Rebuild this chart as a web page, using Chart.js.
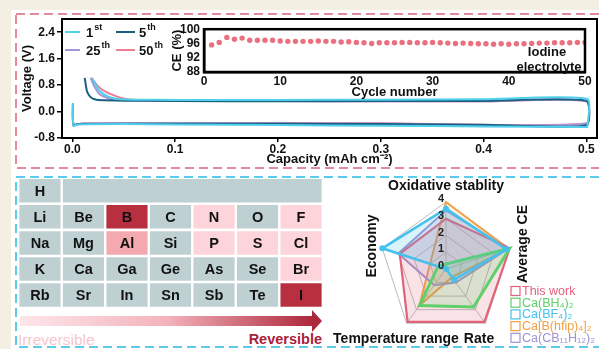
<!DOCTYPE html>
<html>
<head>
<meta charset="utf-8">
<script src="https://cdn.jsdelivr.net/npm/chart.js@4.4.0/dist/chart.umd.min.js"></script>
<style>
body{margin:0;width:599px;height:349px;background:#f3efe2;overflow:hidden;position:relative;font-family:'Liberation Sans',Arial,sans-serif}
#panel{position:absolute;left:11px;top:10px;width:600px;height:345px;background:#fff}
canvas,svg{position:absolute}
</style>
</head>
<body>
<div id="panel"></div>
<svg width="599" height="349" style="left:0;top:0">
  <defs>
    <linearGradient id="rev" x1="0" x2="1" y1="0" y2="0">
      <stop offset="0" stop-color="#fde6ea"/>
      <stop offset="0.5" stop-color="#f4b3bc"/>
      <stop offset="1" stop-color="#ad283b"/>
    </linearGradient>
  </defs>
  <rect x="16" y="14" width="600" height="154" fill="none" stroke="#e58a9a" stroke-width="2" stroke-dasharray="9 5"/>
  <rect x="16" y="177" width="600" height="170" fill="none" stroke="#5ccaea" stroke-width="2" stroke-dasharray="9 5"/>
  <rect x="20" y="316" width="293" height="10" fill="url(#rev)"/>
  <polygon points="312,310 322,321 312,332" fill="#ad283b"/>
  <text x="18" y="345" font-size="15.5" fill="#f7c6cd">Irreversible</text>
  <text x="322" y="344" font-size="14.5" font-weight="bold" fill="#a82038" text-anchor="end">Reversible</text>
</svg>
<canvas id="volt" width="599" height="172" style="left:0;top:0"></canvas>
<canvas id="ce" width="449" height="84" style="left:150px;top:18px"></canvas>
<canvas id="pt" width="330" height="145" style="left:0;top:170px"></canvas>
<canvas id="radar" width="269" height="173" style="left:330px;top:176px"></canvas>
<script>
// ---- voltage profiles (capacity mAh cm-2 / voltage V) ----
const cycleNums = ['1', '5', '25', '50'];
const cycleSup = ['st', 'th', 'th', 'th'];
const cap1st = [0.0005, 0.001, 0.005, 0.05, 0.1, 0.2, 0.3, 0.4, 0.5, 0.501, 0.501, 0.4, 0.3, 0.2, 0.1, 0.06, 0.044, 0.038, 0.033, 0.028, 0.025, 0.0195];
const volt1st = [0.26, -0.43, -0.39, -0.38, -0.39, -0.41, -0.43, -0.45, -0.47, -0.47, 0.38, 0.37, 0.36, 0.35, 0.35, 0.36, 0.38, 0.42, 0.48, 0.58, 0.69, 0.99];
const cap5th = [0.0005, 0.001, 0.005, 0.1, 0.2, 0.3, 0.4, 0.5, 0.5, 0.4, 0.3, 0.2, 0.1, 0.052, 0.025, 0.021, 0.0185, 0.016, 0.014, 0.012];
const volt5th = [0.24, -0.42, -0.38, -0.37, -0.37, -0.38, -0.40, -0.41, 0.33, 0.32, 0.32, 0.31, 0.32, 0.33, 0.35, 0.38, 0.42, 0.50, 0.64, 1.02];
const cap25th = [0.0005, 0.001, 0.01, 0.1, 0.3, 0.5, 0.5, 0.4, 0.2, 0.1, 0.052, 0.036, 0.031, 0.0266, 0.0217, 0.0178];
const volt25th = [0.2, -0.38, -0.36, -0.35, -0.36, -0.37, 0.31, 0.31, 0.32, 0.33, 0.34, 0.39, 0.45, 0.52, 0.74, 1.02];
const cap50th = [0.0005, 0.001, 0.01, 0.1, 0.3, 0.5, 0.5, 0.4, 0.2, 0.1, 0.072, 0.052, 0.041, 0.030, 0.024, 0.0185];
const volt50th = [0.2, -0.38, -0.36, -0.35, -0.35, -0.36, 0.31, 0.31, 0.32, 0.33, 0.34, 0.38, 0.48, 0.64, 0.80, 1.02];
const capTicks = [0, 0.1, 0.2, 0.3, 0.4, 0.5];
const voltTicks = [-0.8, 0, 0.8, 1.6, 2.4];

// ---- coulombic efficiency inset ----
const ceCycles = Array.from({length: 50}, (_, i) => i + 1);
const ceValues = [95.6, 96.3, 97.7, 97.2, 97.5, 96.9, 96.9, 96.9, 96.9, 96.7,
                  96.6, 96.6, 96.6, 96.6, 96.7, 96.6, 96.6, 96.4, 96.5, 96.3,
                  96.2, 96.0, 96.2, 96.2, 96.2, 96.3, 96.3, 96.2, 96.2, 96.3,
                  96.2, 96.1, 96.0, 96.1, 96.0, 95.9, 95.9, 95.8, 95.9, 95.8,
                  95.9, 95.9, 96.0, 96.1, 96.1, 96.2, 96.2, 96.2, 96.3, 96.3];
const ceXTicks = [0, 10, 20, 30, 40, 50];
const ceYTicks = [88, 92, 96, 100];

// ---- periodic table ----
const elementRows = [
  ['H'],
  ['Li', 'Be', 'B', 'C', 'N', 'O', 'F'],
  ['Na', 'Mg', 'Al', 'Si', 'P', 'S', 'Cl'],
  ['K', 'Ca', 'Ga', 'Ge', 'As', 'Se', 'Br'],
  ['Rb', 'Sr', 'In', 'Sn', 'Sb', 'Te', 'I']
];
// 0 irreversible ... 3 reversible
const reversibility = [
  [0],
  [0, 0, 3, 0, 1, 0, 1],
  [0, 0, 2, 0, 1, 1, 1],
  [0, 0, 0, 0, 0, 0, 1],
  [0, 0, 0, 0, 0, 0, 3]
];

// ---- radar ----
const radarAxes = ['Oxidative stablity', 'Average CE', 'Rate', 'Temperature range', 'Economy'];
const radarNames = ['This work', 'Ca(BH₄)₂', 'Ca(BF₄)₂', 'Ca[B(hfip)₄]₂', 'Ca(CB₁₁H₁₂)₂'];
const thisWork = [3.0, 4.0, 3.9, 3.9, 2.9];
const caBH4 = [0.3, 4.0, 2.8, 2.7, 0.5];
const caBF4 = [3.6, 3.8, 0.8, 0.0, 4.0];
const caBhfip = [4.0, 3.9, 0.6, 2.7, 1.0];
const caCB11 = [3.5, 3.9, 1.0, 1.2, 3.0];
const radarTicks = [0, 1, 2, 3, 4];

Chart.defaults.font.family = "'Liberation Sans', Arial, sans-serif";
Chart.defaults.color = '#111';
Chart.defaults.animation = false;

const frame = {
  id: 'frame',
  afterDatasetsDraw(chart, args, opts) {
    const {ctx, chartArea: a} = chart;
    ctx.save();
    ctx.strokeStyle = '#000';
    ctx.lineWidth = opts.width || 2;
    ctx.strokeRect(a.left, a.top, a.right - a.left, a.bottom - a.top);
    ctx.restore();
  }
};

// voltage chart
const voltColors = ['#4fd0ec', '#1d5f80', '#a096d8', '#ea7f92'];
const voltCaps = [cap1st, cap5th, cap25th, cap50th];
const voltVals = [volt1st, volt5th, volt25th, volt50th];

const voltLegend = {
  id: 'voltLegend',
  afterDraw(chart) {
    const {ctx, chartArea: a} = chart;
    ctx.save();
    chart.data.datasets.forEach((ds, i) => {
      const x = a.left + 3 + (i % 2) * 51;
      const y = a.top + 13 + Math.floor(i / 2) * 18;
      ctx.strokeStyle = ds.borderColor;
      ctx.lineWidth = 2;
      ctx.beginPath(); ctx.moveTo(x, y); ctx.lineTo(x + (i % 2 ? 19 : 15), y); ctx.stroke();
      const tx = x + (i % 2 ? 23 : 21);
      ctx.fillStyle = '#111';
      ctx.textBaseline = 'middle';
      ctx.font = "bold 13px 'Liberation Sans', Arial";
      ctx.fillText(cycleNums[i], tx, y + 1);
      const w = ctx.measureText(cycleNums[i]).width;
      ctx.font = "bold 9px 'Liberation Sans', Arial";
      ctx.fillText(cycleSup[i], tx + w + 1, y - 4);
    });
    ctx.restore();
  }
};

new Chart(document.getElementById('volt'), {
  type: 'scatter',
  data: {
    datasets: cycleNums.map((n, i) => ({
      label: n + cycleSup[i],
      data: voltCaps[i].map((x, j) => ({x: x, y: voltVals[i][j]})),
      showLine: true,
      borderColor: voltColors[i],
      borderWidth: 2,
      pointRadius: 0,
      tension: 0.2,
      fill: false
    }))
  },
  options: {
    responsive: false,
    layout: {padding: {left: 14, right: 2, top: 19, bottom: 0}},
    plugins: {legend: {display: false}, tooltip: {enabled: false}, frame: {width: 2}},
    scales: {
      x: {
        type: 'linear', min: -0.0101, max: 0.5104,
        afterBuildTicks: s => { s.ticks = capTicks.map(v => ({value: v})); },
        afterFit: s => { s.height = 34; },
        ticks: {callback: v => v.toFixed(1), font: {size: 12, weight: 'bold'}, padding: 0, maxRotation: 0, autoSkip: false, color: '#111'},
        grid: {display: true, drawOnChartArea: false, tickLength: 4, color: '#000', lineWidth: 1.5},
        border: {display: true, color: '#000', width: 2},
        title: {display: true, text: 'Capacity (mAh cm⁻²)', font: {size: 13, weight: 'bold'}, color: '#111', padding: {top: 0, bottom: 4.5}}
      },
      y: {
        type: 'linear', min: -0.8, max: 2.8,
        afterBuildTicks: s => { s.ticks = voltTicks.map(v => ({value: v})); },
        afterFit: s => { s.width = 48; },
        ticks: {callback: v => v.toFixed(1), font: {size: 12, weight: 'bold'}, padding: 2, autoSkip: false, color: '#111'},
        grid: {display: true, drawOnChartArea: false, tickLength: 5, color: '#000', lineWidth: 1.5},
        border: {display: true, color: '#000', width: 2},
        title: {display: true, text: 'Voltage (V)', font: {size: 13, weight: 'bold'}, color: '#111', padding: {top: 6, bottom: 0}}
      }
    }
  },
  plugins: [frame, voltLegend]
});

// CE inset
const ceNote = {
  id: 'ceNote',
  afterDraw(chart) {
    const {ctx, chartArea: a} = chart;
    ctx.save();
    ctx.fillStyle = '#111';
    ctx.font = "bold 13px 'Liberation Sans', Arial";
    ctx.textAlign = 'center';
    ctx.textBaseline = 'middle';
    ctx.fillText('Iodine', a.right - 38, a.top + 23);
    ctx.fillText('electrolyte', a.right - 36, a.top + 38);
    ctx.restore();
  }
};

new Chart(document.getElementById('ce'), {
  type: 'scatter',
  data: {
    datasets: [{
      label: 'CE',
      data: ceCycles.map((c, i) => ({x: c, y: ceValues[i]})),
      pointRadius: 2.7,
      pointBackgroundColor: '#e9707f',
      pointBorderWidth: 0,
      showLine: false
    }]
  },
  options: {
    responsive: false,
    layout: {padding: {left: 20, right: 14, top: 8, bottom: 0}},
    plugins: {legend: {display: false}, tooltip: {enabled: false}, frame: {width: 2.5}},
    scales: {
      x: {
        type: 'linear', min: 0, max: 50,
        afterBuildTicks: s => { s.ticks = ceXTicks.map(v => ({value: v})); },
        afterFit: s => { s.height = 30; },
        ticks: {font: {size: 12, weight: 'bold'}, padding: 2, maxRotation: 0, autoSkip: false, color: '#111'},
        grid: {display: false, drawTicks: false},
        border: {display: true, color: '#000', width: 2.5},
        title: {display: true, text: 'Cycle number', font: {size: 13, weight: 'bold'}, color: '#111', padding: {top: 0, bottom: 2}}
      },
      y: {
        type: 'linear', min: 88, max: 100,
        afterBuildTicks: s => { s.ticks = ceYTicks.map(v => ({value: v})); },
        afterFit: s => { s.width = 34; },
        ticks: {font: {size: 12, weight: 'bold'}, padding: 4, autoSkip: false, color: '#111'},
        grid: {display: false, drawTicks: false},
        border: {display: true, color: '#000', width: 2.5},
        title: {display: true, text: 'CE (%)', font: {size: 13, weight: 'bold'}, color: '#111', padding: {top: 0, bottom: 0}}
      }
    }
  },
  plugins: [frame, ceNote]
});

// periodic table as floating bars
const shades = ['#bfd0d3', '#fcd4d9', '#f4a9b1', '#b8303f'];
const gap = 0.027;
const ptDatasets = [];
for (let c = 0; c < 7; c++) {
  ptDatasets.push({
    label: 'col' + c,
    data: elementRows.map(r => r[c] ? [c + gap, c + 1 - gap] : null),
    backgroundColor: reversibility.map(r => r[c] !== undefined ? shades[r[c]] : 'transparent'),
    grouped: false, barPercentage: 0.9, categoryPercentage: 1, borderWidth: 0
  });
}
ptDatasets.push({
  label: 'blank',
  data: elementRows.map((r, i) => i === 0 ? [1 + gap, 7 - gap] : null),
  backgroundColor: shades[0],
  grouped: false, barPercentage: 0.9, categoryPercentage: 1, borderWidth: 0
});

const symbols = {
  id: 'symbols',
  afterDatasetsDraw(chart) {
    const {ctx} = chart;
    ctx.save();
    ctx.font = "bold 14.5px 'Liberation Sans', Arial";
    ctx.fillStyle = '#111';
    ctx.textAlign = 'center';
    ctx.textBaseline = 'middle';
    for (let c = 0; c < 7; c++) {
      chart.getDatasetMeta(c).data.forEach((el, row) => {
        const sym = elementRows[row][c];
        if (!sym) return;
        ctx.fillText(sym, (el.x + el.base) / 2, el.y + 1);
      });
    }
    ctx.restore();
  }
};

new Chart(document.getElementById('pt'), {
  type: 'bar',
  data: {labels: elementRows.map((r, i) => 'row' + (i + 1)), datasets: ptDatasets},
  options: {
    indexAxis: 'y',
    responsive: false,
    layout: {padding: {left: 18.2, right: 7.2, top: 7.7, bottom: 6.9}},
    plugins: {legend: {display: false}, tooltip: {enabled: false}},
    scales: {
      x: {type: 'linear', min: 0, max: 7, display: false},
      y: {display: false}
    }
  },
  plugins: [symbols]
});

// radar
const radarColors = ['#e2627c', '#5fcf6a', '#45c2ec', '#f2a043', '#9d92d4'];
const radarFills = ['rgba(226,98,124,0.18)', 'rgba(95,207,106,0.2)', 'rgba(69,194,236,0.2)', 'rgba(242,160,67,0.16)', 'rgba(157,146,212,0.18)'];
const radarWidths = [2.2, 3, 2.6, 2, 2];
const radarOrder = [3, 2, 1, 5, 4];
const radarData = [thisWork, caBH4, caBF4, caBhfip, caCB11];

const radarDecor = {
  id: 'radarDecor',
  afterDraw(chart) {
    const {ctx} = chart;
    const s = chart.scales.r;
    const xc = s.xCenter, yc = s.yCenter, r = s.drawingArea;
    ctx.save();
    // tick values
    ctx.fillStyle = '#222';
    ctx.font = "bold 11px 'Liberation Sans', Arial";
    ctx.textAlign = 'center';
    ctx.textBaseline = 'middle';
    radarTicks.forEach(v => {
      ctx.fillText(String(v), xc - 5, yc - s.getDistanceFromCenterForValue(v) - 3);
    });
    // axis names
    ctx.fillStyle = '#111';
    ctx.font = "bold 14px 'Liberation Sans', Arial";
    ctx.fillText(radarAxes[0], xc, yc - r - 16);
    ctx.fillText(radarAxes[2], xc + 33, yc + r + 3);
    ctx.fillText(radarAxes[3], xc - 50, yc + r + 3);
    [[1, xc + r + 10, yc - 25], [4, xc - r - 7, yc - 23]].forEach(([i, x, y]) => {
      ctx.save();
      ctx.translate(x, y);
      ctx.rotate(-Math.PI / 2);
      ctx.fillText(radarAxes[i], 0, 0);
      ctx.restore();
    });
    // legend
    ctx.textAlign = 'left';
    ctx.font = "12.5px 'Liberation Sans', Arial";
    radarNames.forEach((name, i) => {
      const x = xc + 65, y = yc + 22 + i * 11.7;
      ctx.strokeStyle = radarColors[i];
      ctx.lineWidth = 1.2;
      ctx.strokeRect(x, y - 4.5, 9, 9);
      ctx.fillStyle = radarColors[i];
      ctx.fillText(name, x + 11, y + 0.5);
    });
    ctx.restore();
  }
};

new Chart(document.getElementById('radar'), {
  type: 'radar',
  data: {
    labels: radarAxes,
    datasets: radarNames.map((n, i) => ({
      label: n,
      data: radarData[i],
      borderColor: radarColors[i],
      backgroundColor: radarFills[i],
      borderWidth: radarWidths[i],
      fill: true,
      order: radarOrder[i],
      pointRadius: i === 2 ? 3 : 0,
      pointBackgroundColor: radarColors[i],
      pointBorderWidth: 0
    }))
  },
  options: {
    responsive: false,
    layout: {padding: {left: 49.7, right: 85.3, top: 26, bottom: 13}},
    plugins: {legend: {display: false}, tooltip: {enabled: false}},
    scales: {
      r: {
        min: 0, max: 4,
        ticks: {stepSize: 1, display: false},
        pointLabels: {display: false},
        grid: {color: '#a9a9a9', lineWidth: 0.8},
        angleLines: {color: '#a9a9a9', lineWidth: 0.8}
      }
    }
  },
  plugins: [radarDecor]
});
</script>
</body>
</html>
